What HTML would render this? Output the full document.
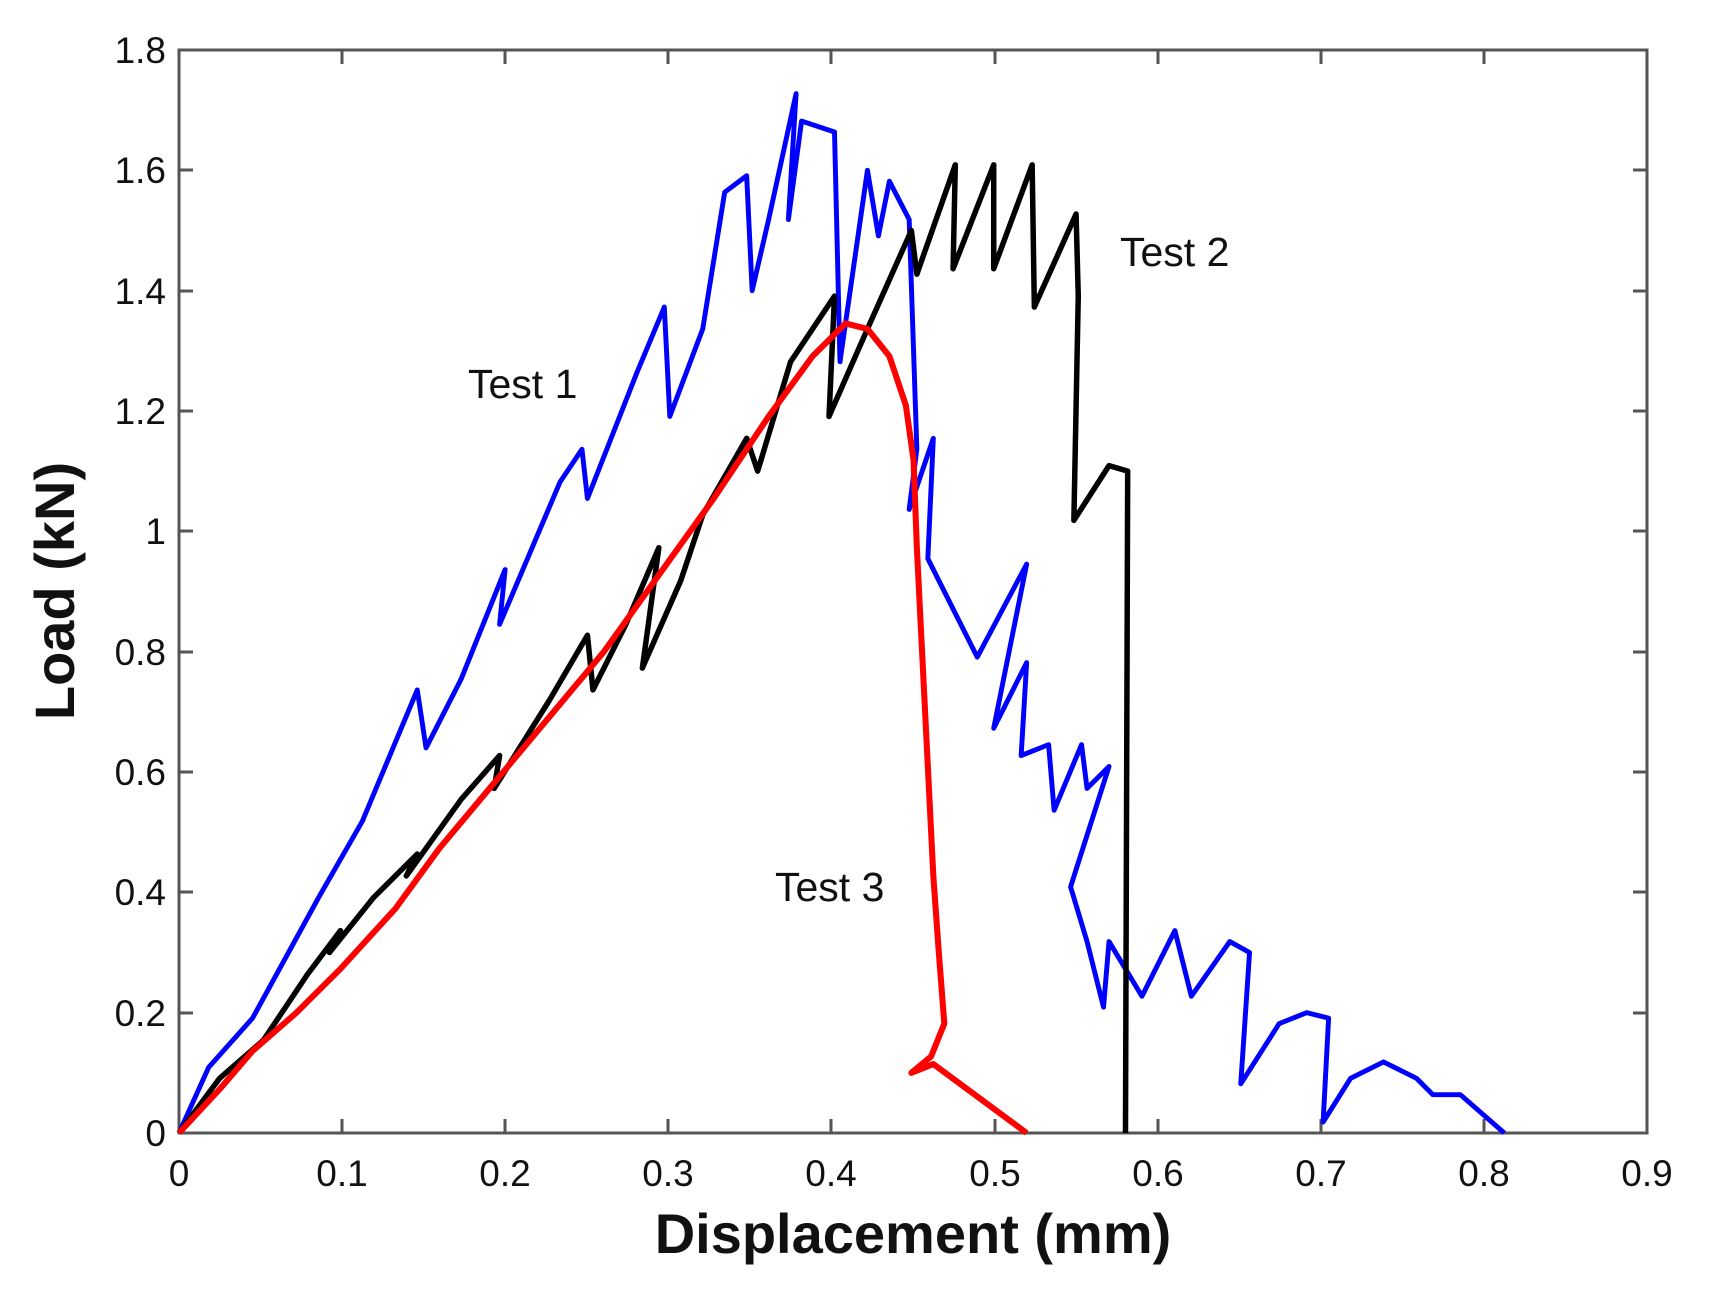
<!DOCTYPE html>
<html><head><style>body{margin:0;background:#fff}svg{display:block}text{font-family:"Liberation Sans",sans-serif}</style></head>
<body>
<svg width="1714" height="1291" viewBox="0 0 1714 1291" xmlns="http://www.w3.org/2000/svg">
<rect width="1714" height="1291" fill="#fff"/>
<g stroke="#555" stroke-width="3" fill="none">
<rect x="179" y="50" width="1468" height="1083"/>
<path d="M342,1133v-14M505,1133v-14M668,1133v-14M831,1133v-14M995,1133v-14M1158,1133v-14M1321,1133v-14M1484,1133v-14
M342,50v14M505,50v14M668,50v14M831,50v14M995,50v14M1158,50v14M1321,50v14M1484,50v14
M179,1013h14M179,892h14M179,772h14M179,652h14M179,531h14M179,411h14M179,291h14M179,170h14
M1647,1013h-14M1647,892h-14M1647,772h-14M1647,652h-14M1647,531h-14M1647,411h-14M1647,291h-14M1647,170h-14"/>
</g>
<g font-size="37" fill="#111" text-anchor="end">
<text x="166" y="1146">0</text><text x="166" y="1026">0.2</text><text x="166" y="905">0.4</text><text x="166" y="785">0.6</text><text x="166" y="665">0.8</text><text x="166" y="544">1</text><text x="166" y="424">1.2</text><text x="166" y="304">1.4</text><text x="166" y="183">1.6</text><text x="166" y="63">1.8</text>
</g>
<g font-size="37" fill="#111" text-anchor="middle">
<text x="179" y="1186">0</text><text x="342" y="1186">0.1</text><text x="505" y="1186">0.2</text><text x="668" y="1186">0.3</text><text x="831" y="1186">0.4</text><text x="995" y="1186">0.5</text><text x="1158" y="1186">0.6</text><text x="1321" y="1186">0.7</text><text x="1484" y="1186">0.8</text><text x="1647" y="1186">0.9</text>
</g>
<text x="913" y="1253" font-size="56" font-weight="bold" text-anchor="middle" fill="#111">Displacement (mm)</text>
<text transform="translate(74,591) rotate(-90)" font-size="56" font-weight="bold" text-anchor="middle" fill="#111">Load (kN)</text>
<g font-size="41" fill="#111">
<text x="468" y="398">Test 1</text><text x="1120" y="266">Test 2</text><text x="775" y="901">Test 3</text>
</g>
<g transform="translate(179,1133) scale(1.098,1.094) translate(-163,-1035)" fill="none" stroke-linejoin="round">
<polyline stroke="#0000ff" stroke-width="4.5" points="163,1035 190,975 230,930 290,820 330,750 380,630 388,683 420,620 460,520 455,570 510,440 530,410 535,455 580,340 605,280 610,380 640,300 660,175 680,160 685,265 700,200 725,85 718,200 730,110 760,120 765,330 790,155 800,215 810,165 828,200 835,410 828,465 850,400 845,510 870,560 890,600 935,515 905,665 935,605 930,690 955,680 960,740 985,680 990,720 1010,700 975,810 990,860 1005,920 1010,860 1040,910 1070,850 1085,910 1120,860 1138,870 1130,990 1165,935 1190,925 1210,930 1205,1025 1230,985 1260,970 1290,985 1305,1000 1330,1000 1370,1035"/>
<polyline stroke="#000" stroke-width="5" points="163,1035 200,985 240,950 280,890 310,850 300,870 340,820 380,780 370,800 420,730 455,690 450,720 500,640 535,580 540,630 570,570 600,500 585,610 620,530 640,470 680,400 690,430 720,330 760,270 755,380 790,300 830,210 835,250 870,150 868,245 905,150 905,245 940,150 942,280 980,195 982,270 978,475 1010,425 1027,430 1025,1035"/>
<polyline stroke="#ff0000" stroke-width="5.5" points="163,1035 200,995 230,960 270,925 310,885 360,830 400,775 450,715 500,655 550,595 600,525 650,455 700,380 740,325 770,295 790,300 810,325 825,370 832,420 835,500 840,600 845,700 850,800 855,870 860,935 848,965 830,980 850,972 935,1035"/>
</g>
</svg>
</body></html>
